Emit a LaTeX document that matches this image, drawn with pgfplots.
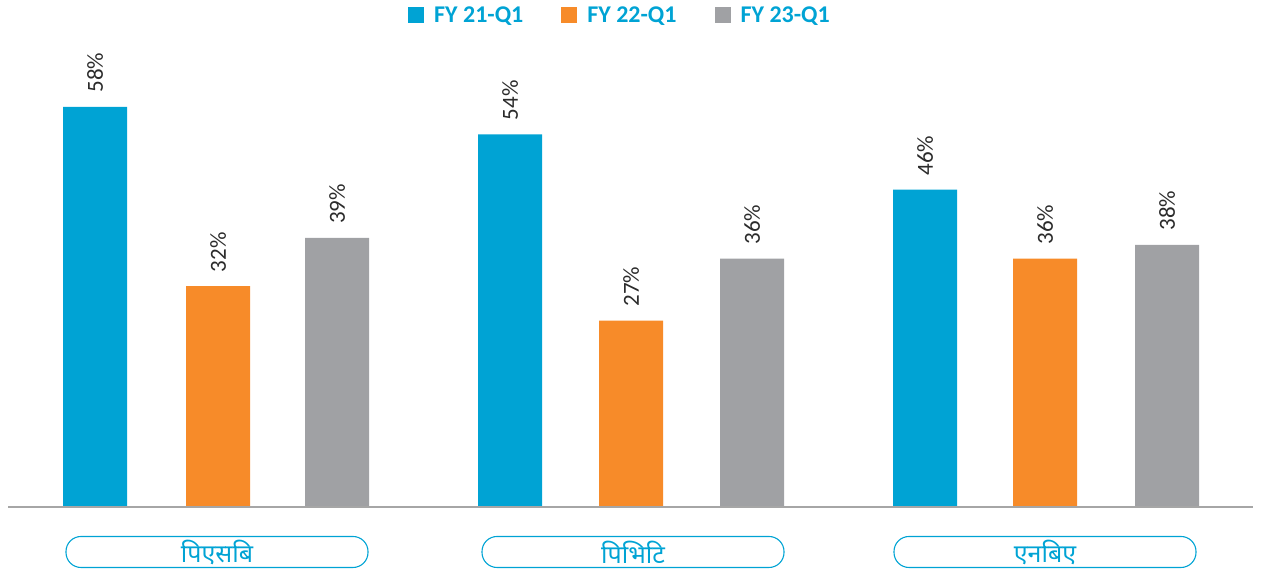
\documentclass[border=0pt]{standalone}
\usepackage{fontspec}
\setmainfont{Carlito}
\newfontfamily\devfont[Script=Devanagari]{Noto Sans}
\usepackage{pgfplots}
\usepackage{pgfplotstable}
\pgfplotsset{compat=1.18}

\definecolor{cblue}{HTML}{00A3D4}
\definecolor{corange}{HTML}{F78B29}
\definecolor{cgrey}{HTML}{A0A1A4}
\definecolor{cline}{HTML}{A6A6A6}
\definecolor{ctext}{HTML}{2B2B2B}

% bar positions in pixels, value in %
\pgfplotstableread{
x   y
95  58
510 54
925 46
}\fyone
\pgfplotstableread{
x    y
218  32
631  27
1045 36
}\fytwo
\pgfplotstableread{
x    y
337  39
752  36
1167 38
}\fythree

\tikzset{catbox/.style={draw=cblue, line width=1.1pt, rounded corners=15pt,
    minimum width=302pt, minimum height=31pt, inner sep=0pt,
    text=cblue, font=\devfont\fontsize{25}{25}\selectfont}}

\begin{document}
\begin{tikzpicture}
\begin{axis}[
    scale only axis,
    width=1262pt, height=507pt,
    xmin=0, xmax=1262,
    ymin=0, ymax=73.48,
    axis line style={draw=none},
    xtick=\empty, ytick=\empty,
    clip=false,
    /pgf/number format/assume math mode=true,
    ybar, bar width=64, bar shift=0pt,
    nodes near coords={\pgfmathprintnumber{\pgfplotspointmeta}\%},
    every node near coord/.append style={rotate=90, anchor=west,
        font=\fontsize{23}{23}\selectfont, text=ctext, inner xsep=14pt},
    legend style={at={(axis cs:620,71.3)}, anchor=center, draw=none, fill=none,
        legend columns=-1, font=\fontsize{24}{24}\bfseries\selectfont, text=cblue,
        /tikz/every even column/.append style={column sep=36pt},
        /tikz/every odd column/.append style={column sep=8pt}},
    legend image code/.code={\fill[#1] (0pt,-8pt) rectangle (16pt,8pt);},
]
\addplot[fill=cblue, draw=none] table[x=x, y=y] {\fyone};
\addplot[fill=corange, draw=none] table[x=x, y=y] {\fytwo};
\addplot[fill=cgrey, draw=none] table[x=x, y=y] {\fythree};
\legend{FY 21-Q1, FY 22-Q1, FY 23-Q1}

\draw[cline, line width=2pt] (axis cs:8,0) -- (axis cs:1253,0);

\node[catbox] at (axis cs:217,-6.52) {पिएसबि};
\node[catbox] at (axis cs:633,-6.52) {पिभिटि};
\node[catbox] at (axis cs:1045,-6.52) {एनबिए};
\path (axis cs:0,-9.42) -- (axis cs:1262,-9.42);
\end{axis}
\end{tikzpicture}
\end{document}
